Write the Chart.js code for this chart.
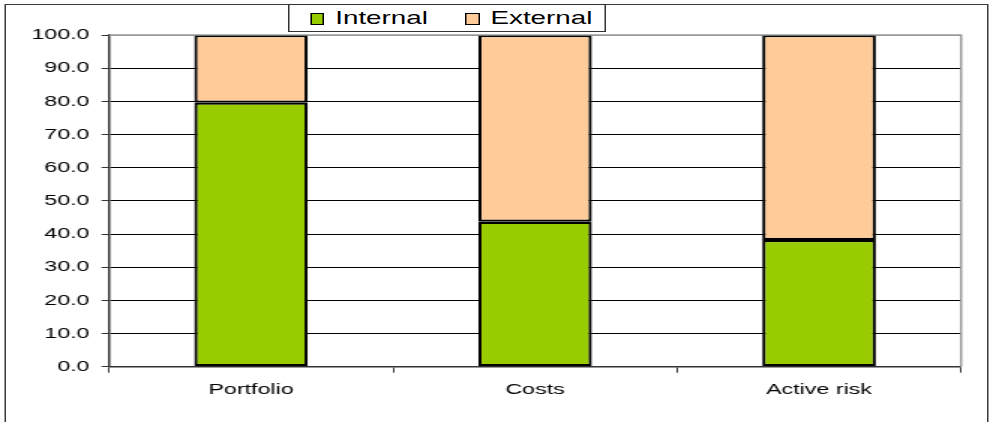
<!DOCTYPE html>
<html>
<head>
<meta charset="utf-8">
<script src="https://cdn.jsdelivr.net/npm/chart.js@4/dist/chart.umd.min.js"></script>
<style>
  html, body { margin: 0; padding: 0; background: #fff; overflow: hidden; width: 990px; height: 422px; }
  #stage { position: absolute; left: 0; top: 0; width: 660px; height: 422px; transform: scaleX(1.5); transform-origin: 0 0; }
  #frame { position: absolute; left: 3.2px; top: 4px; width: 656px; height: 500px; border: 1.5px solid #3a3a3a; box-sizing: border-box; }
  #c { position: absolute; left: 0; top: 0; }
  #legend { position: absolute; left: 192px; top: 4px; width: 212px; height: 28px; box-sizing: border-box; border: 1.3px solid #333; background: #fff;
            font-family: "Liberation Sans", Arial, sans-serif; font-size: 18.5px; color: #000; }
  .item { position: absolute; top: 3px; line-height: 22px; white-space: nowrap; }
  .sw { position: absolute; width: 7.5px; height: 10px; border: 1.6px solid #000; }
</style>
</head>
<body>
<div id="stage">
  <div id="frame"></div>
  <canvas id="c" width="660" height="422"></canvas>
  <div id="legend"></div>
</div>
<script>
const categories = ["Portfolio", "Costs", "Active risk"];
const seriesNames = ["Internal", "External"];
const internalValues = [79.6, 43.7, 38.2];
const externalValues = [20.4, 56.3, 61.8];
const seriesColors = ["#99CC00", "#FFCC99"];

const datasets = [
  { label: seriesNames[0], data: internalValues, backgroundColor: seriesColors[0] },
  { label: seriesNames[1], data: externalValues, backgroundColor: seriesColors[1] }
].map(d => Object.assign(d, {
  borderColor: "#000", borderWidth: 2.2, borderSkipped: false,
  barPercentage: 0.4, categoryPercentage: 1.0
}));

const frameLines = {
  id: "frameLines",
  afterDraw(chart) {
    const { ctx, chartArea: a } = chart;
    ctx.save();
    ctx.strokeStyle = "#999";
    ctx.lineWidth = 1.5;
    ctx.beginPath();
    ctx.moveTo(a.left, a.top);
    ctx.lineTo(a.right, a.top);
    ctx.lineTo(a.right, a.bottom);
    ctx.stroke();
    ctx.restore();
  }
};

const font = { family: "'Liberation Sans', Arial, sans-serif", size: 15.5 };

new Chart(document.getElementById("c"), {
  type: "bar",
  data: { labels: categories, datasets },
  options: {
    responsive: false,
    animation: false,
    devicePixelRatio: 1,
    layout: { padding: { top: 35, right: 19.3, bottom: 0, left: 0 } },
    plugins: { legend: { display: false }, tooltip: { enabled: false } },
    scales: {
      x: {
        stacked: true,
        offset: true,
        grid: { offset: true, drawOnChartArea: false, drawTicks: true, tickLength: 6, color: "#333", lineWidth: 1 },
        border: { display: true, color: "#333", width: 1.5 },
        ticks: { color: "#000", font, padding: 8 },
        afterFit(s) { s.height = 55.3; }
      },
      y: {
        stacked: true,
        min: 0, max: 100,
        ticks: { stepSize: 10, color: "#000", font, padding: 8,
                 callback: v => Number(v).toFixed(1) },
        grid: {
          color: c => (c.tick && c.tick.value === 100) ? "#999" : "#000",
          tickColor: "#333",
          lineWidth: 1,
          tickLength: 5
        },
        border: { display: true, color: "#333", width: 1.5 },
        afterFit(s) { s.width = 72.7; }
      }
    }
  },
  plugins: [frameLines]
});

// HTML legend built from the series
const legend = document.getElementById("legend");
const pos = [{ sw: 13.5, tx: 30.5 }, { sw: 117, tx: 134 }];
seriesNames.forEach((name, i) => {
  const sw = document.createElement("div");
  sw.className = "sw";
  sw.style.left = pos[i].sw + "px";
  sw.style.top = "7.5px";
  sw.style.background = seriesColors[i];
  legend.appendChild(sw);
  const t = document.createElement("div");
  t.className = "item";
  t.style.left = pos[i].tx + "px";
  t.style.top = "2px";
  t.textContent = name;
  legend.appendChild(t);
});
</script>
</body>
</html>
